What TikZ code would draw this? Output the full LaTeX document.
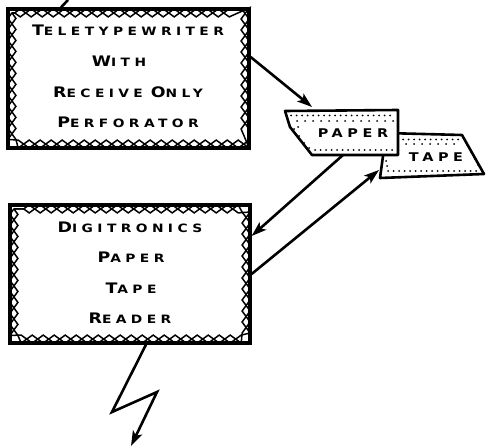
\documentclass[tikz,border=0pt]{standalone}
\usepackage{fontspec}
\usepackage{graphicx}
\usetikzlibrary{arrows.meta,decorations.pathmorphing}
\newfontfamily\lblfont[LetterSpace=32]{DejaVu Sans Bold}
\newcommand\capw[2]{{\fontsize{14.5}{15}\selectfont #1}{\fontsize{11.5}{12}\selectfont #2}}
\newcommand\widetxt[1]{\scalebox{1.2}[1]{#1}}
\tikzset{
  unitbox/.style={draw, line width=3.2pt, rectangle, inner sep=0pt},
  zzA/.style={line width=1.5pt, decorate, decoration={zigzag, amplitude=4pt, segment length=22pt}},
  zzB/.style={line width=1.5pt, decorate, decoration={zigzag, amplitude=4pt, segment length=22pt, mirror}},
  lbl/.style={font=\lblfont, inner sep=0pt},
  tapepiece/.style={draw, line width=2.6pt, fill=white, line join=round},
  conn/.style={line width=2.6pt, -{Stealth[length=15pt,width=10pt,inset=3.5pt]}},
  bolt/.style={line width=2.6pt, line join=miter},
  dot/.style={fill=black}
}
\begin{document}
\begin{tikzpicture}[x=1pt,y=-1pt]
\useasboundingbox (0,0) rectangle (486,446);
% boxes
\node[unitbox, minimum width=241pt, minimum height=139pt] (tt) at (128.5,78.5) {};
\node[unitbox, minimum width=240pt, minimum height=138pt] (dg) at (130,274) {};
\foreach \b in {tt,dg}{
  \draw[zzA] ([shift={(5.5pt,-5.5pt)}]\b.north west) rectangle ([shift={(-5.5pt,5.5pt)}]\b.south east);
  \draw[zzB] ([shift={(5.5pt,-5.5pt)}]\b.north west) rectangle ([shift={(-5.5pt,5.5pt)}]\b.south east);
}
% texts of top box
\node[lbl] (t1) at (128,30) {\widetxt{\capw{T}{ELETYPEWRITER}}};
\node[lbl] (t2) at (119,61) {\widetxt{\capw{W}{ITH}}};
\node[lbl] (t3) at (128,92) {\widetxt{\capw{R}{ECEIVE} \capw{O}{NLY}}};
\node[lbl] (t4) at (128,122) {\widetxt{\capw{P}{ERFORATOR}}};
% texts of bottom box
\node[lbl] (d1) at (130,227) {\widetxt{\capw{D}{IGITRONICS}}};
\node[lbl] (d2) at (131,257) {\widetxt{\capw{P}{APER}}};
\node[lbl] (d3) at (131,288) {\widetxt{\capw{T}{APE}}};
\node[lbl] (d4) at (130,318) {\widetxt{\capw{R}{EADER}}};
% tape pieces
\draw[tapepiece] (385,133) -- (462,135) -- (484,174) -- (380,178) -- (383,156) -- cycle;
\foreach \x in {403,408.5,...,460} \fill[dot] (\x,139.5) circle (1pt);
\foreach \x in {406,414,...,456} \fill[dot] (\x,144) circle (1pt);
\foreach \x in {388,393.5,...,478} \fill[dot] (\x,171) circle (1pt);
\foreach \x/\y in {467/145,471/152,475/159,478/165,386/161,387/166} \fill[dot] (\x,\y) circle (1pt);
\draw[tapepiece] (285,111) -- (398,110) -- (398,155) -- (312,155) -- (290,127) -- cycle;
\foreach \x in {291,296.5,...,395} \fill[dot] (\x,115.5) circle (1pt);
\foreach \x in {297,305,...,394} \fill[dot] (\x,121) circle (1pt);
\foreach \x in {315,320.5,...,395} \fill[dot] (\x,150) circle (1pt);
\foreach \x/\y in {294/129,299/136,304/143,309/148,298/127} \fill[dot] (\x,\y) circle (1pt);
\node[lbl, font=\lblfont\fontsize{12}{12}\selectfont] (pp) at (353,133) {\widetxt{PAPER}};
\node[lbl, font=\lblfont\fontsize{12}{12}\selectfont] (tp) at (436,157) {\widetxt{TAPE}};
% connectors
\coordinate (pin) at (312,107);
\coordinate (pout) at (343,155);
\coordinate (tin) at (379,170);
\draw[conn] ([yshift=21.5pt]tt.east) -- (pin);
\draw[conn] (pout) -- ([yshift=38pt]dg.east);
\draw[conn] (dg.east) -- (tin);
% bolts
\coordinate (topend) at (68,0);
\draw[bolt] ([xshift=-67.5pt]tt.north) -- (topend);
\coordinate (b1) at (112,412);
\coordinate (b2) at (157,392);
\coordinate (b3) at (131,446);
\draw[bolt, conn] ([xshift=16pt]dg.south) -- (b1) -- (b2) -- (b3);
\end{tikzpicture}
\end{document}
